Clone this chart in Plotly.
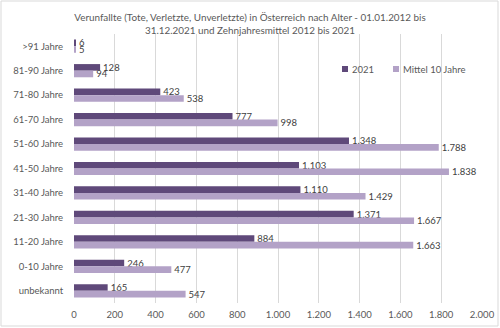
import plotly.graph_objects as go

# Age groups, top to bottom
age_groups = [">91 Jahre", "81-90 Jahre", "71-80 Jahre", "61-70 Jahre", "51-60 Jahre",
              "41-50 Jahre", "31-40 Jahre", "21-30 Jahre", "11-20 Jahre", "0-10 Jahre",
              "unbekannt"]
values_2021 = [6, 128, 423, 777, 1348, 1103, 1110, 1371, 884, 246, 165]
values_mean10 = [5, 94, 538, 998, 1788, 1838, 1429, 1667, 1663, 477, 547]
x_ticks = [0, 200, 400, 600, 800, 1000, 1200, 1400, 1600, 1800, 2000]
series_names = ["2021", "Mittel 10 Jahre"]
series_colors = ["#5F497A", "#B3A2C7"]

FONT = "Lato, Open Sans, sans-serif"
TXT = "#595959"

# plot-area geometry in pixels
W, H = 500, 328
L, R, T, B = 74, 18, 34, 25
PW, PH = W - L - R, H - T - B


def px_x(x):
    return (x - L) / PW


def px_y(y):
    return (H - B - y) / PH


fig = go.Figure()
for name, vals, col in zip(series_names, [values_2021, values_mean10], series_colors):
    fig.add_trace(go.Bar(
        y=age_groups, x=vals, name=name, orientation="h",
        marker=dict(color=col, line=dict(width=0)),
        texttemplate="%{x:,}", textposition="outside", cliponaxis=False,
        constraintext="none", showlegend=False,
        textfont=dict(size=9.5, color="#404040", family=FONT),
    ))

# legend: small colour squares with labels, drawn inside the plot area
shapes = []
annotations = []
legend_x = [342, 393]
for name, col, lx in zip(series_names, series_colors, legend_x):
    shapes.append(dict(type="rect", xref="paper", yref="paper",
                       x0=px_x(lx), x1=px_x(lx + 6), y0=px_y(72), y1=px_y(66),
                       fillcolor=col, line=dict(width=0)))
    annotations.append(dict(text=name, xref="paper", yref="paper",
                            x=px_x(lx + 7.5), y=px_y(69), xanchor="left", yanchor="middle",
                            showarrow=False, font=dict(size=9.5, color=TXT, family=FONT)))

# thin frame around the whole chart
shapes.append(dict(type="rect", xref="paper", yref="paper",
                   x0=px_x(1), x1=px_x(W - 2), y0=px_y(H - 2), y1=px_y(1),
                   line=dict(color="#D9D9D9", width=1), fillcolor="rgba(0,0,0,0)",
                   layer="below"))

fig.update_layout(
    width=W, height=H,
    margin=dict(l=L, r=R, t=T, b=B, autoexpand=False),
    paper_bgcolor="white", plot_bgcolor="white",
    separators=",.",
    barmode="group", bargap=0.46, bargroupgap=0,
    showlegend=False,
    font=dict(family=FONT, size=9.5, color=TXT),
    title=dict(
        text="Verunfallte (Tote, Verletzte, Unverletzte) in Österreich nach Alter - 01.01.2012 bis<br>"
             "31.12.2021 und Zehnjahresmittel 2012 bis 2021",
        x=0.5, xanchor="center", yref="container", y=1 - 21 / H, yanchor="middle",
        font=dict(size=9.9, color=TXT, family=FONT),
    ),
    xaxis=dict(
        range=[0, 2000], tickvals=x_ticks, tickformat=",",
        showgrid=True, gridcolor="#D9D9D9", gridwidth=1,
        zeroline=False, showline=False, ticks="",
        ticklabelstandoff=4,
        tickfont=dict(size=9.5, color=TXT, family=FONT),
    ),
    yaxis=dict(
        autorange="reversed", categoryorder="array", categoryarray=age_groups,
        showgrid=False, zeroline=False, showline=False,
        ticks="outside", ticklen=8, tickcolor="rgba(0,0,0,0)",
        tickfont=dict(size=9.5, color=TXT, family=FONT),
    ),
    shapes=shapes,
    annotations=annotations,
)

fig.write_html("out.html")
